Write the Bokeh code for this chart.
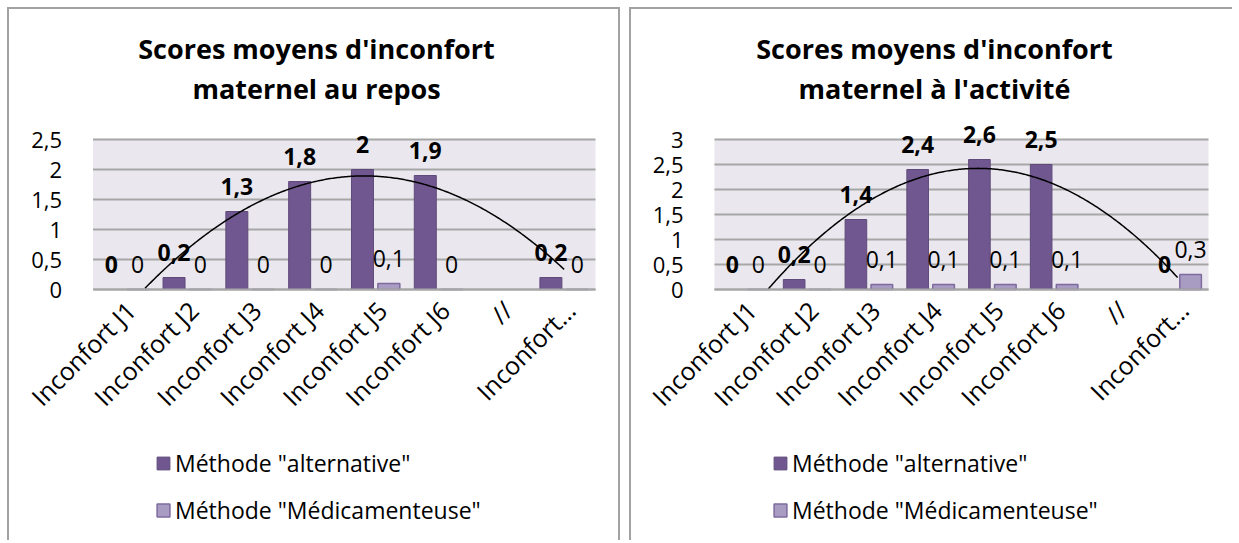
import numpy as np
from bokeh.plotting import figure
from bokeh.layouts import row
from bokeh.core.properties import value
from bokeh.models import (ColumnDataSource, LabelSet, Label, Legend, LegendItem,
                          FixedTicker, Range1d, BoxAnnotation)
from bokeh.embed import file_html
from bokeh.resources import INLINE

categories = ["Inconfort J1", "Inconfort J2", "Inconfort J3", "Inconfort J4",
              "Inconfort J5", "Inconfort J6", "//", "Inconfort…"]
positions = [1, 2, 3, 4, 5, 6, 7, 8]

repos_alternative = [0, 0.2, 1.3, 1.8, 2.0, 1.9, None, 0.2]
repos_medicament = [0, 0, 0, 0, 0.1, 0, None, 0]
activite_alternative = [0, 0.2, 1.4, 2.4, 2.6, 2.5, None, 0]
activite_medicament = [0, 0, 0.1, 0.1, 0.1, 0.1, None, 0.3]

repos_yticks = [0, 0.5, 1, 1.5, 2, 2.5]
activite_yticks = [0, 0.5, 1, 1.5, 2, 2.5, 3]

series_names = ['Méthode "alternative"', 'Méthode "Médicamenteuse"']
titles = [["Scores moyens d'inconfort", "maternel au repos"],
          ["Scores moyens d'inconfort", "maternel à l'activité"]]

FONT = "Open Sans"
ALT_FILL, ALT_LINE = "#70578F", "#5F4A7B"
MED_FILL, MED_LINE = "#A99CC3", "#7E6A9E"
GRID = "#A6A6A6"
BORDER = "2px solid #A2A2A2"
H = 533          # canvas height
Y0 = 280         # canvas row of value 0


def fmt(v):
    return ("%g" % v).replace(".", ",")


def panel(title_lines, alt, med, yticks, width, left_px, right_px, ppu, styles,
          title_x, legend_x):
    xppu = (width - left_px - right_px) / 8.0
    p = figure(width=width, height=H,
               x_range=Range1d(0.5 - left_px / xppu, 8.5 + right_px / xppu),
               y_range=Range1d(-(H - Y0) / ppu, Y0 / ppu), output_backend="svg",
               toolbar_location=None, min_border_left=0, min_border_right=0,
               min_border_top=0, min_border_bottom=0,
               background_fill_color="white", outline_line_color=None,
               border_fill_color="white", styles=styles)
    p.add_layout(BoxAnnotation(left=0.5, right=8.5, bottom=0, top=yticks[-1],
                               fill_color="#EAE8EE", fill_alpha=1,
                               line_color=None, level="image"))
    # horizontal gridlines across the plot area
    p.segment(x0=[0.5] * len(yticks), x1=[8.5] * len(yticks), y0=yticks, y1=yticks,
              line_color=GRID, line_width=2)

    xs = np.array(positions, dtype=float)
    a = np.array([np.nan if v is None else v for v in alt], dtype=float)
    m = np.array([np.nan if v is None else v for v in med], dtype=float)
    off, bw = 0.21, 0.35
    src_a = ColumnDataSource(dict(x=xs - off, top=a,
                                  t=["" if np.isnan(v) else fmt(v) for v in a]))
    src_m = ColumnDataSource(dict(x=xs + off, top=m,
                                  t=["" if np.isnan(v) else fmt(v) for v in m]))
    ra = p.vbar(x="x", top="top", width=bw, source=src_a, fill_color=ALT_FILL,
                line_color=ALT_LINE, line_width=1)
    rm = p.vbar(x="x", top="top", width=bw, source=src_m, fill_color=MED_FILL,
                line_color=MED_LINE, line_width=1.5)
    # polynomial (order 2) trendline of the "alternative" series
    ok = ~np.isnan(a)
    coef = np.polyfit(xs[ok], a[ok], 2)
    tx = np.linspace(xs[ok][0], xs[ok][-1], 300)
    ty = np.polyval(coef, tx)
    keep = ty >= 0
    p.line(tx[keep], ty[keep], line_color="black", line_width=1.5)

    for src, style in ((src_a, "bold"), (src_m, "normal")):
        p.add_layout(LabelSet(x="x", y="top", text="t", source=src, y_offset=25,
                              text_align="center", text_baseline="middle",
                              text_font=value(FONT), text_font_size=value("23px"),
                              text_font_style=value(style), text_color="black"))

    p.xgrid.visible = False
    p.ygrid.visible = False

    # category labels sit slightly right of the category centres (as in Excel)
    label_ticks = [round(x + 0.1, 2) for x in positions]
    p.xaxis.fixed_location = 0
    p.xaxis.bounds = (0.5, 8.5)
    p.xaxis.ticker = FixedTicker(ticks=label_ticks)
    p.xaxis.major_label_overrides = {x: c for x, c in zip(label_ticks, categories)}
    p.xaxis.major_label_orientation = np.pi / 4
    p.xaxis.axis_line_color = GRID
    p.xaxis.axis_line_width = 2
    p.xaxis.major_tick_line_color = None
    p.xaxis.minor_tick_line_color = None
    p.xaxis.major_label_standoff = 10
    p.xaxis.major_label_text_font = FONT
    p.xaxis.major_label_text_font_size = "25px"
    p.xaxis.major_label_text_color = "black"

    p.yaxis.fixed_location = 0.5
    p.yaxis.bounds = (0, yticks[-1])
    p.yaxis.ticker = FixedTicker(ticks=yticks)
    p.yaxis.major_label_overrides = {t: fmt(t) for t in yticks}
    p.yaxis.axis_line_color = None
    p.yaxis.major_tick_line_color = None
    p.yaxis.minor_tick_line_color = None
    p.yaxis.major_label_standoff = 25
    p.yaxis.major_label_text_font = FONT
    p.yaxis.major_label_text_font_size = "22px"
    p.yaxis.major_label_text_color = "black"

    for txt, y in zip(title_lines, (494, 454)):
        p.add_layout(Label(x=title_x, y=y, x_units="screen", y_units="screen",
                           text=txt, text_align="center", text_baseline="alphabetic",
                           text_font=FONT, text_font_size="27px",
                           text_font_style="bold", text_color="black"))

    legend = Legend(items=[LegendItem(label=series_names[0], renderers=[ra]),
                           LegendItem(label=series_names[1], renderers=[rm])],
                    location=(legend_x, 16), orientation="vertical",
                    border_line_color=None, background_fill_alpha=0,
                    padding=0, margin=0, spacing=15, glyph_width=16,
                    glyph_height=16, label_standoff=4, label_height=28,
                    label_text_font=FONT, label_text_font_size="23px",
                    label_text_color="black")
    p.add_layout(legend)
    return p


p1 = panel(titles[0], repos_alternative, repos_medicament, repos_yticks, 613,
           83.5, 27, 60,
           {"border-left": BORDER, "border-top": BORDER, "border-right": BORDER},
           307, 146)
p2 = panel(titles[1], activite_alternative, activite_medicament, activite_yticks,
           603, 83, 26, 50, {"border-left": BORDER, "border-top": BORDER}, 303, 141)

layout = row(p1, p2, spacing=9, margin=(7, 0, 0, 7))
open("out.html", "w").write(file_html(layout, INLINE))
